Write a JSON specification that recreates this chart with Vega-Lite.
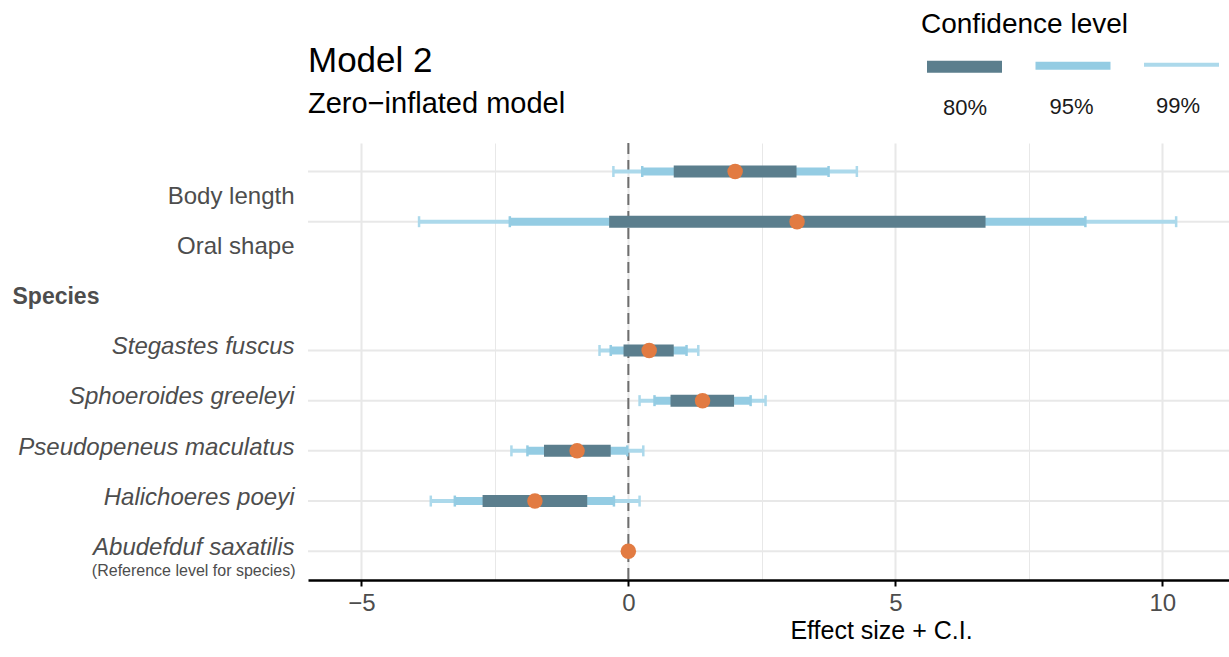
{
  "$schema": "https://vega.github.io/schema/vega-lite/v6.json",
  "width": 921,
  "height": 437,
  "autosize": {"type": "none"},
  "padding": {"left": 308, "top": 143, "right": 0, "bottom": 77},
  "config": {"font": "Liberation Sans", "view": {"stroke": null}},
  "title": {"text": "Model 2", "subtitle": "Zero−inflated model", "anchor": "start", "frame": "group", "fontSize": 35, "fontWeight": "normal", "color": "black", "subtitleFontSize": 29, "subtitleColor": "black", "subtitlePadding": 11, "offset": -108},
  "datasets": {
    "rows": [
      {"term": "Body length", "grp": "cov", "est": 2.0, "lo80": 0.85, "hi80": 3.15, "lo95": 0.26, "hi95": 3.75, "lo99": -0.28, "hi99": 4.28},
      {"term": "Oral shape", "grp": "cov", "est": 3.16, "lo80": -0.36, "hi80": 6.69, "lo95": -2.22, "hi95": 8.56, "lo99": -3.92, "hi99": 10.26},
      {"term": "Stegastes fuscus", "grp": "sp", "est": 0.39, "lo80": -0.09, "hi80": 0.85, "lo95": -0.33, "hi95": 1.09, "lo99": -0.54, "hi99": 1.31},
      {"term": "Sphoeroides greeleyi", "grp": "sp", "est": 1.39, "lo80": 0.79, "hi80": 1.98, "lo95": 0.49, "hi95": 2.29, "lo99": 0.21, "hi99": 2.57},
      {"term": "Pseudopeneus maculatus", "grp": "sp", "est": -0.96, "lo80": -1.58, "hi80": -0.33, "lo95": -1.89, "hi95": -0.02, "lo99": -2.19, "hi99": 0.28},
      {"term": "Halichoeres poeyi", "grp": "sp", "est": -1.75, "lo80": -2.73, "hi80": -0.77, "lo95": -3.25, "hi95": -0.27, "lo99": -3.70, "hi99": 0.21},
      {"term": "Abudefduf saxatilis", "grp": "sp", "est": 0, "lo80": null, "hi80": null, "lo95": null, "hi95": null, "lo99": null, "hi99": null}
    ]
  },
  "data": {"name": "rows"},
  "resolve": {"axis": {"y": "independent"}},
  "layer": [
    {
      "transform": [{"filter": "datum.grp === 'cov'"}],
      "mark": {"type": "rule", "color": "#e8e8e8", "strokeWidth": 2},
      "encoding": {
        "y": {"field": "term", "type": "nominal", "bandPosition": 0,
          "scale": {"type": "band", "domain": ["Body length", "Oral shape", "Species", "Stegastes fuscus", "Sphoeroides greeleyi", "Pseudopeneus maculatus", "Halichoeres poeyi", "Abudefduf saxatilis"], "paddingInner": 0, "paddingOuter": 0.3526, "align": 0.805},
          "axis": {"title": null, "orient": "left", "domain": false, "ticks": false, "grid": false, "labelPadding": 14, "labelFontSize": 24, "labelColor": "#4d4d4d", "labelLimit": 400, "labelOverlap": false,
            "labelExpr": "datum.value === 'Species' ? '' : datum.value",
            "labelFontStyle": {"condition": {"test": "datum.value === 'Body length' || datum.value === 'Oral shape'", "value": "normal"}, "value": "italic"}}
        }
      }
    },
    {
      "transform": [{"filter": "datum.grp === 'sp'"}],
      "mark": {"type": "rule", "color": "#e8e8e8", "strokeWidth": 2},
      "encoding": {
        "y": {"field": "term", "type": "nominal", "bandPosition": 0.565,
          "scale": {"type": "band", "domain": ["Body length", "Oral shape", "Species", "Stegastes fuscus", "Sphoeroides greeleyi", "Pseudopeneus maculatus", "Halichoeres poeyi", "Abudefduf saxatilis"], "paddingInner": 0, "paddingOuter": 0.3526, "align": 0.805},
          "axis": {"title": null, "orient": "left", "domain": false, "ticks": false, "grid": false, "labelPadding": 13, "labelFontSize": 16, "labelColor": "#4d4d4d", "labelOffset": 23, "labelLimit": 400, "labelOverlap": false,
            "labelExpr": "datum.value === 'Abudefduf saxatilis' ? '(Reference level for species)' : ''"}
        }
      }
    },
    {
      "data": {"values": [{}]},
      "mark": {"type": "rule", "color": "#6e6e6e", "strokeWidth": 2, "strokeDash": [11, 6]},
      "encoding": {
        "x": {"datum": 0, "type": "quantitative",
          "scale": {"domain": [-6.0, 11.25], "nice": false, "zero": false},
          "axis": {"title": "Effect size + C.I.", "values": [-5, -2.5, 0, 2.5, 5, 7.5, 10], "grid": true, "gridColor": "#e8e8e8",
            "gridWidth": {"condition": {"test": "datum.value % 5 === 0", "value": 2}, "value": 1},
            "domainColor": "black", "domainWidth": 2.5, "tickColor": "black", "tickWidth": 2, "tickSize": 6,
            "tickOpacity": {"condition": {"test": "datum.value % 5 === 0", "value": 1}, "value": 0},
            "labelExpr": "datum.value % 5 === 0 ? datum.label : ''", "labelFontSize": 24, "labelColor": "#4d4d4d", "labelPadding": 5, "labelFlush": false, "labelOverlap": false,
            "titleFontSize": 25, "titleFontWeight": "normal", "titleColor": "black", "titleX": 573, "titleAlign": "center", "titlePadding": 3}
        }
      }
    },
    {
      "transform": [{"filter": "datum.grp === 'cov'"}],
      "encoding": {
        "y": {"field": "term", "type": "nominal", "bandPosition": 0,
          "scale": {"type": "band", "domain": ["Body length", "Oral shape", "Species", "Stegastes fuscus", "Sphoeroides greeleyi", "Pseudopeneus maculatus", "Halichoeres poeyi", "Abudefduf saxatilis"], "paddingInner": 0, "paddingOuter": 0.3526, "align": 0.805},
          "axis": {"title": null, "orient": "left", "domain": false, "ticks": false, "grid": false, "offset": 296, "labelPadding": 0, "labelAlign": "left", "labelFontSize": 23, "labelFontWeight": "bold", "labelColor": "#4d4d4d", "labelLimit": 400, "labelOverlap": false,
            "labelExpr": "datum.value === 'Species' ? 'Species' : ''"}
        }
      },
      "layer": [
        {"mark": {"type": "rule"}, "encoding": {
          "x": {"field": "lo99", "type": "quantitative", "title": "Effect size + C.I.", "scale": {"domain": [-6.0, 11.25], "nice": false, "zero": false}},
          "x2": {"field": "hi99", "title": "Effect size + C.I."},
          "color": {"datum": "99%", "type": "ordinal", "scale": {"domain": ["80%", "95%", "99%"], "range": ["#5b7e8d", "#94cce3", "#acd9eb"]},
            "legend": {"title": "Confidence level", "orient": "none", "legendX": 613, "legendY": -132, "direction": "horizontal", "symbolType": "stroke", "symbolSize": 5625, "titleFontSize": 28, "titleFontWeight": "normal", "titleColor": "black", "titleLimit": 500, "titlePadding": -16, "labelFontSize": 22, "labelColor": "#1a1a1a", "labelOffset": 0, "columnPadding": -6.5, "gridAlign": "all", "padding": 0,
              "encode": {"labels": {"update": {"align": {"value": "center"}, "dx": {"value": -43}, "dy": {"value": 41}}}}}},
          "strokeWidth": {"datum": "99%", "type": "ordinal", "scale": {"type": "ordinal", "domain": ["80%", "95%", "99%"], "range": [12, 8, 4]},
            "legend": {"title": "Confidence level", "orient": "none", "legendX": 613, "legendY": -132, "direction": "horizontal", "symbolType": "stroke", "symbolSize": 5625, "titleFontSize": 28, "titleFontWeight": "normal", "titleColor": "black", "titleLimit": 500, "titlePadding": -16, "labelFontSize": 22, "labelColor": "#1a1a1a", "labelOffset": 0, "columnPadding": -6.5, "gridAlign": "all", "padding": 0,
              "encode": {"labels": {"update": {"align": {"value": "center"}, "dx": {"value": -43}, "dy": {"value": 41}}}}}}
        }},
        {"mark": {"type": "point", "shape": "stroke", "angle": 90, "size": 121, "filled": false, "strokeWidth": 2.5, "color": "#acd9eb", "opacity": 1}, "encoding": {"x": {"field": "lo99", "type": "quantitative", "title": "Effect size + C.I."}}},
        {"mark": {"type": "point", "shape": "stroke", "angle": 90, "size": 121, "filled": false, "strokeWidth": 2.5, "color": "#acd9eb", "opacity": 1}, "encoding": {"x": {"field": "hi99", "type": "quantitative", "title": "Effect size + C.I."}}},
        {"mark": {"type": "rule"}, "encoding": {
          "x": {"field": "lo95", "type": "quantitative", "title": "Effect size + C.I."},
          "x2": {"field": "hi95", "title": "Effect size + C.I."},
          "color": {"datum": "95%", "type": "ordinal", "scale": {"domain": ["80%", "95%", "99%"], "range": ["#5b7e8d", "#94cce3", "#acd9eb"]}},
          "strokeWidth": {"datum": "95%", "type": "ordinal", "scale": {"type": "ordinal", "domain": ["80%", "95%", "99%"], "range": [12, 8, 4]}}
        }},
        {"mark": {"type": "point", "shape": "stroke", "angle": 90, "size": 121, "filled": false, "strokeWidth": 2.5, "color": "#94cce3", "opacity": 1}, "encoding": {"x": {"field": "lo95", "type": "quantitative", "title": "Effect size + C.I."}}},
        {"mark": {"type": "point", "shape": "stroke", "angle": 90, "size": 121, "filled": false, "strokeWidth": 2.5, "color": "#94cce3", "opacity": 1}, "encoding": {"x": {"field": "hi95", "type": "quantitative", "title": "Effect size + C.I."}}},
        {"mark": {"type": "rule"}, "encoding": {
          "x": {"field": "lo80", "type": "quantitative", "title": "Effect size + C.I."},
          "x2": {"field": "hi80", "title": "Effect size + C.I."},
          "color": {"datum": "80%", "type": "ordinal", "scale": {"domain": ["80%", "95%", "99%"], "range": ["#5b7e8d", "#94cce3", "#acd9eb"]}},
          "strokeWidth": {"datum": "80%", "type": "ordinal", "scale": {"type": "ordinal", "domain": ["80%", "95%", "99%"], "range": [12, 8, 4]}}
        }},
        {"mark": {"type": "circle", "size": 240, "color": "#e27b42", "opacity": 1}, "encoding": {"x": {"field": "est", "type": "quantitative", "title": "Effect size + C.I."}}}
      ]
    },
    {
      "transform": [{"filter": "datum.grp === 'sp'"}],
      "encoding": {
        "y": {"field": "term", "type": "nominal", "bandPosition": 0.565,
          "scale": {"type": "band", "domain": ["Body length", "Oral shape", "Species", "Stegastes fuscus", "Sphoeroides greeleyi", "Pseudopeneus maculatus", "Halichoeres poeyi", "Abudefduf saxatilis"], "paddingInner": 0, "paddingOuter": 0.3526, "align": 0.805},
          "axis": null
        }
      },
      "layer": [
        {"mark": {"type": "rule"}, "encoding": {
          "x": {"field": "lo99", "type": "quantitative", "title": "Effect size + C.I."},
          "x2": {"field": "hi99", "title": "Effect size + C.I."},
          "color": {"datum": "99%", "type": "ordinal", "scale": {"domain": ["80%", "95%", "99%"], "range": ["#5b7e8d", "#94cce3", "#acd9eb"]}},
          "strokeWidth": {"datum": "99%", "type": "ordinal", "scale": {"type": "ordinal", "domain": ["80%", "95%", "99%"], "range": [12, 8, 4]}}
        }},
        {"mark": {"type": "point", "shape": "stroke", "angle": 90, "size": 121, "filled": false, "strokeWidth": 2.5, "color": "#acd9eb", "opacity": 1}, "encoding": {"x": {"field": "lo99", "type": "quantitative", "title": "Effect size + C.I."}}},
        {"mark": {"type": "point", "shape": "stroke", "angle": 90, "size": 121, "filled": false, "strokeWidth": 2.5, "color": "#acd9eb", "opacity": 1}, "encoding": {"x": {"field": "hi99", "type": "quantitative", "title": "Effect size + C.I."}}},
        {"mark": {"type": "rule"}, "encoding": {
          "x": {"field": "lo95", "type": "quantitative", "title": "Effect size + C.I."},
          "x2": {"field": "hi95", "title": "Effect size + C.I."},
          "color": {"datum": "95%", "type": "ordinal", "scale": {"domain": ["80%", "95%", "99%"], "range": ["#5b7e8d", "#94cce3", "#acd9eb"]}},
          "strokeWidth": {"datum": "95%", "type": "ordinal", "scale": {"type": "ordinal", "domain": ["80%", "95%", "99%"], "range": [12, 8, 4]}}
        }},
        {"mark": {"type": "point", "shape": "stroke", "angle": 90, "size": 121, "filled": false, "strokeWidth": 2.5, "color": "#94cce3", "opacity": 1}, "encoding": {"x": {"field": "lo95", "type": "quantitative", "title": "Effect size + C.I."}}},
        {"mark": {"type": "point", "shape": "stroke", "angle": 90, "size": 121, "filled": false, "strokeWidth": 2.5, "color": "#94cce3", "opacity": 1}, "encoding": {"x": {"field": "hi95", "type": "quantitative", "title": "Effect size + C.I."}}},
        {"mark": {"type": "rule"}, "encoding": {
          "x": {"field": "lo80", "type": "quantitative", "title": "Effect size + C.I."},
          "x2": {"field": "hi80", "title": "Effect size + C.I."},
          "color": {"datum": "80%", "type": "ordinal", "scale": {"domain": ["80%", "95%", "99%"], "range": ["#5b7e8d", "#94cce3", "#acd9eb"]}},
          "strokeWidth": {"datum": "80%", "type": "ordinal", "scale": {"type": "ordinal", "domain": ["80%", "95%", "99%"], "range": [12, 8, 4]}}
        }},
        {"mark": {"type": "circle", "size": 240, "color": "#e27b42", "opacity": 1}, "encoding": {"x": {"field": "est", "type": "quantitative", "title": "Effect size + C.I."}}}
      ]
    }
  ]
}
